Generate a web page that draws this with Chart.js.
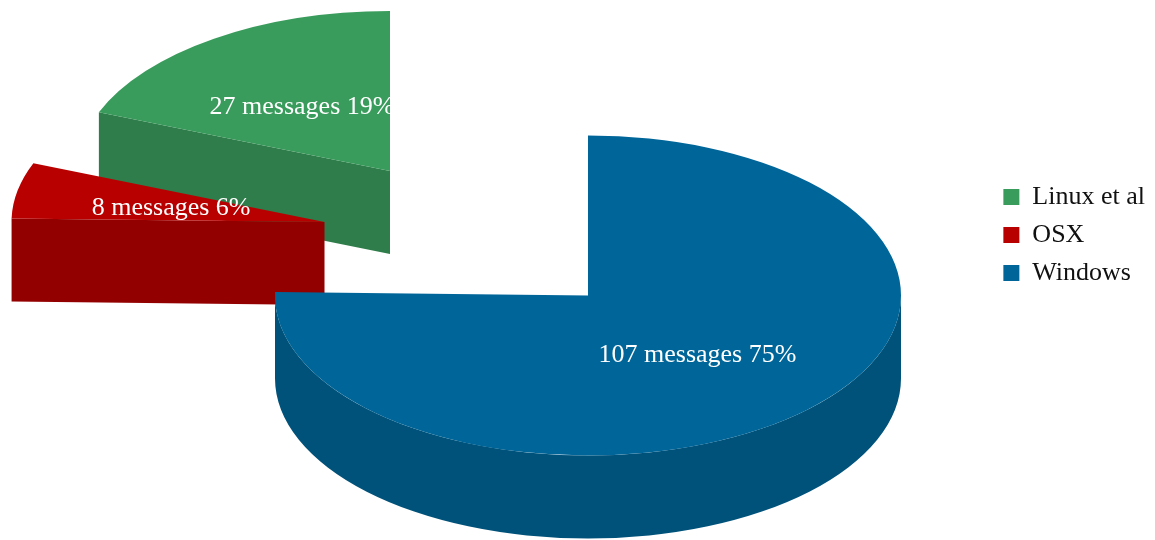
<!DOCTYPE html>
<html>
<head>
<meta charset="utf-8">
<title>Messages by platform</title>
<script src="https://cdn.jsdelivr.net/npm/chart.js@4/dist/chart.umd.min.js"></script>
<style>
  html, body { margin: 0; padding: 0; background: #ffffff; }
  canvas { display: block; }
</style>
</head>
<body>
<canvas id="chart" width="1155" height="540"></canvas>
<script>
const categories = ['Windows', 'OSX', 'Linux et al'];
const messages = [107, 8, 27];

const topColors = ['#006699', '#b80000', '#3a9c5c'];
const wallColors = ['#00527a', '#930000', '#2f7d4a'];

// the drawing is a flattened pie, every slice pulled apart by hand
const radius = 313;
const squash = 160 / 313;
const depth = 83;
const centerX = 588;
const centerY = 295.5;
const pullX = [0, -263.5, -198];
const pullY = [0, -73.5, -124.5];

const labelFont = '26px "Liberation Serif"';

function drawWalls(ctx, arc, x, y, color) {
    const ry = radius * squash;
    ctx.fillStyle = color;

    function radial(angle) {
        const ex = x + radius * Math.cos(angle);
        const ey = y + ry * Math.sin(angle);
        ctx.beginPath();
        ctx.moveTo(x, y);
        ctx.lineTo(ex, ey);
        ctx.lineTo(ex, ey + depth);
        ctx.lineTo(x, y + depth);
        ctx.closePath();
        ctx.fill();
    }

    // only the faces turned towards the viewer
    if (Math.cos(arc.startAngle) < 0) radial(arc.startAngle);
    if (Math.cos(arc.endAngle) > 0) radial(arc.endAngle);

    // outer rim: only the front half, angles 0..PI on the canvas
    const from = Math.max(arc.startAngle, 0);
    const to = Math.min(arc.endAngle, Math.PI);
    if (to > from) {
        ctx.beginPath();
        ctx.ellipse(x, y, radius, ry, 0, from, to);
        ctx.ellipse(x, y + depth, radius, ry, 0, to, from, true);
        ctx.closePath();
        ctx.fill();
    }
}

const flatPie = {
    id: 'flatPie',
    beforeDatasetsDraw(chart) {
        const ctx = chart.ctx;
        const arcs = chart.getDatasetMeta(0).data;
        const total = messages.reduce((a, b) => a + b, 0);

        // back to front
        for (let i = arcs.length - 1; i >= 0; i--) {
            const arc = arcs[i];
            const x = centerX + pullX[i];
            const y = centerY + pullY[i];
            drawWalls(ctx, arc, x, y, wallColors[i]);
            ctx.save();
            ctx.translate(x, y);
            ctx.scale(1, squash);
            ctx.translate(-arc.x, -arc.y);
            arc.draw(ctx);
            ctx.restore();
        }

        ctx.save();
        ctx.font = labelFont;
        ctx.fillStyle = '#ffffff';
        ctx.textAlign = 'center';
        ctx.textBaseline = 'middle';
        arcs.forEach((arc, i) => {
            const p = arc.getCenterPoint();
            const pct = Math.round(messages[i] / total * 100);
            ctx.fillText(messages[i] + ' messages ' + pct + '%',
                centerX + pullX[i] + (p.x - arc.x),
                centerY + pullY[i] + (p.y - arc.y) * squash + 2);
        });
        ctx.restore();
        return false;
    }
};

new Chart(document.getElementById('chart'), {
    type: 'pie',
    data: {
        labels: categories,
        datasets: [{
            data: messages,
            backgroundColor: topColors,
            borderWidth: 0
        }]
    },
    options: {
        responsive: false,
        animation: false,
        radius: radius,
        layout: { padding: { right: 0, bottom: 70 } },
        plugins: {
            tooltip: { enabled: false },
            legend: {
                position: 'right',
                reverse: true,
                labels: {
                    boxWidth: 16,
                    boxHeight: 16,
                    padding: 12,
                    color: '#111111',
                    font: { family: '"Liberation Serif"', size: 26 }
                }
            }
        }
    },
    plugins: [flatPie]
});
</script>
</body>
</html>
